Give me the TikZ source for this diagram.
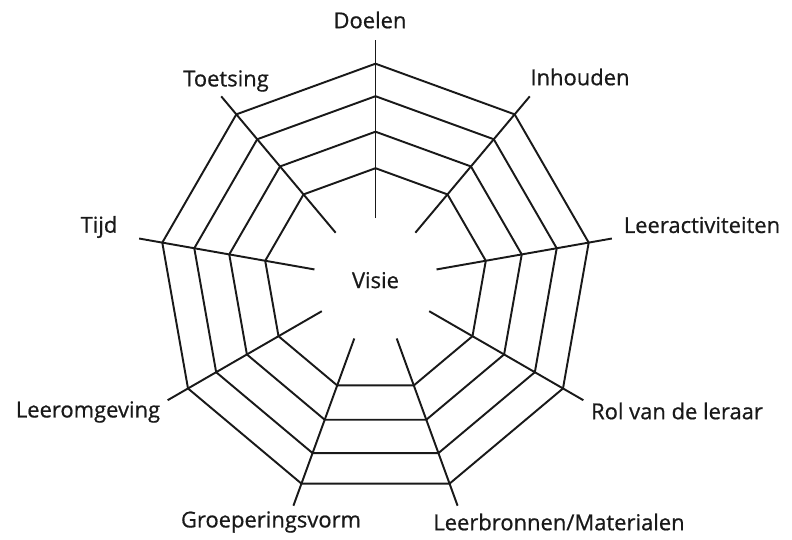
\documentclass[tikz,border=0pt]{standalone}
\usepackage{fontspec}
\setmainfont{Open Sans}
\newfontfamily\webfont{Open Sans}[FakeBold=0.7]
\usepackage{tikz}
\usetikzlibrary{positioning, calc}
\definecolor{webblack}{RGB}{25,25,25}
\tikzset{
  %% ---- lines ----
  ring/.style   = {draw=webblack, line width=1.1pt, line join=miter},
  spoke/.style  = {draw=webblack, line width=1.1pt},
  %% ---- labels ----
  label/.style  = {inner sep=0pt, text=webblack,
                   font=\webfont\fontsize{12.5}{15}\selectfont},
}

\begin{document}
\begin{tikzpicture}[x=0.02cm, y=0.02cm]
\useasboundingbox (0,0) rectangle (792,539);
\coordinate (centre) at (375.5,258.8);
%% rings of the web (nonagons)
\foreach \r in {112,148.5,184,216.5}
  \draw[ring] ([shift={(90:\r)}]centre)
    \foreach \k in {1,...,8} { -- ([shift={(90+40*\k:\r)}]centre) } -- cycle;
%% spokes
\foreach \k/\name in {0/doelen, 1/inhouden, 2/activiteiten, 3/rol, 4/bronnen,
                      5/groepering, 6/omgeving, 7/tijd, 8/toetsing}{
  \coordinate (in-\name)  at ([shift={(90-40*\k:62)}]centre);
  \coordinate (out-\name) at ([shift={(90-40*\k:240)}]centre);
  \draw[spoke] (in-\name) -- (out-\name);
}
%% labels
\node[label] (visie)        at (centre)    {Visie};
\node[label] (doelen)       at (370,519)   {Doelen};
\node[label] (inhouden)     at (580,462)   {Inhouden};
\node[label] (activiteiten) at (702,314)   {Leeractiviteiten};
\node[label] (rol)          at (677,128)   {Rol van de leraar};
\node[label] (bronnen)      at (559,17)    {Leerbronnen/Materialen};
\node[label] (groepering)   at (271,17)    {Groeperingsvorm};
\node[label] (omgeving)     at (88,127)    {Leeromgeving};
\node[label] (tijd)         at (99,312)    {Tijd};
\node[label] (toetsing)     at (226,458)   {Toetsing};
\end{tikzpicture}
\end{document}
